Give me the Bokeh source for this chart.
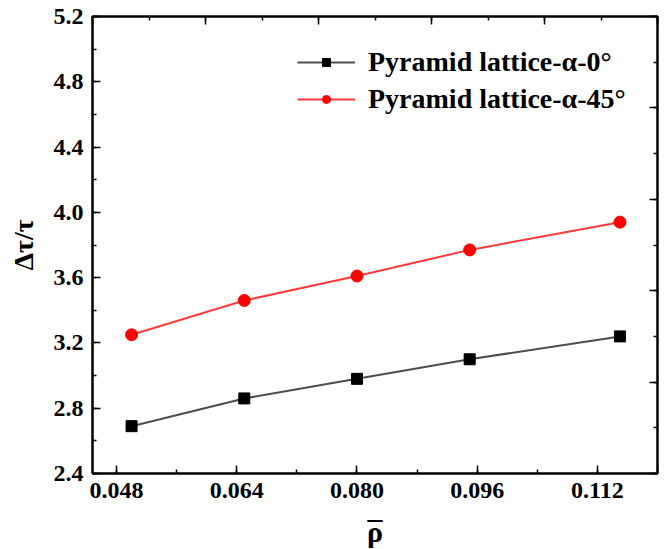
from bokeh.plotting import figure
from bokeh.models import (Range1d, LinearAxis, SingleIntervalTicker, NumeralTickFormatter,
                          CustomJSTickFormatter, Legend, LegendItem)
from bokeh.embed import file_html
from bokeh.resources import INLINE

# ---- data ----
rho = [0.050, 0.065, 0.080, 0.095, 0.115]
alpha0 = [2.69, 2.86, 2.98, 3.10, 3.24]
alpha45 = [3.25, 3.46, 3.61, 3.77, 3.94]
series_names = ["Pyramid lattice-\u03b1-0\u00b0", "Pyramid lattice-\u03b1-45\u00b0"]
x_label = "\u2013\n\u03c1"   # rho with an overline bar
y_label = "\u0394\u03c4/\u03c4"

FONT = "Liberation Serif"

p = figure(width=667, height=549, frame_width=565, frame_height=457,
           min_border_left=92, min_border_right=10, min_border_top=16, min_border_bottom=76,
           x_range=Range1d(0.0448, 0.1200), y_range=Range1d(2.4, 5.2),
           output_backend="svg", toolbar_location=None, x_axis_location=None, y_axis_location=None)
p.xgrid.visible = False
p.ygrid.visible = False
p.outline_line_color = "black"
p.outline_line_width = 2
p.background_fill_color = "white"
p.border_fill_color = "white"

p.extra_x_ranges = {"top": Range1d(0, 10)}
p.extra_y_ranges = {"right": Range1d(0, 10)}

def style(ax):
    ax.axis_line_width = 2
    ax.axis_line_color = "black"
    ax.major_tick_in = 8
    ax.major_tick_out = 0
    ax.minor_tick_in = 4
    ax.minor_tick_out = 0
    ax.major_tick_line_width = 1.5
    ax.minor_tick_line_width = 1.5
    ax.major_tick_line_color = "black"
    ax.minor_tick_line_color = "black"
    ax.major_label_text_font = FONT
    ax.major_label_text_font_style = "bold"
    ax.major_label_text_font_size = "24px"
    ax.major_label_text_color = "black"
    ax.axis_label_text_font = FONT
    ax.axis_label_text_font_style = "bold"
    ax.axis_label_text_color = "black"

xb = LinearAxis(ticker=SingleIntervalTicker(interval=0.016, num_minor_ticks=2),
                formatter=NumeralTickFormatter(format="0.000"), axis_label=x_label)
style(xb)
xb.major_label_standoff = 9
xb.axis_label_text_font_size = "30px"
xb.axis_label_text_line_height = 0.45
xb.axis_label_standoff = 0
p.add_layout(xb, "below")

yl = LinearAxis(ticker=SingleIntervalTicker(interval=0.4, num_minor_ticks=2),
                formatter=NumeralTickFormatter(format="0.0"), axis_label=y_label)
style(yl)
yl.major_label_standoff = 9
yl.axis_label_text_font_size = "28px"
yl.axis_label_standoff = 12
p.add_layout(yl, "left")

blank = CustomJSTickFormatter(code="return ''")
xt = LinearAxis(x_range_name="top", ticker=SingleIntervalTicker(interval=2, num_minor_ticks=2),
                formatter=blank)
style(xt)
xt.major_label_text_font_size = "1px"
p.add_layout(xt, "above")

yr = LinearAxis(y_range_name="right", ticker=SingleIntervalTicker(interval=2, num_minor_ticks=2),
                formatter=blank)
style(yr)
yr.major_label_text_font_size = "1px"
p.add_layout(yr, "right")

l0 = p.line(rho, alpha0, line_color="#4d4d4d", line_width=2)
m0 = p.scatter(rho, alpha0, marker="square", size=11, fill_color="black", line_color="black")
l1 = p.line(rho, alpha45, line_color="#ff3b3b", line_width=2)
m1 = p.scatter(rho, alpha45, marker="circle", size=12, fill_color="#ff0000", line_color="#ff0000")

legend = Legend(items=[LegendItem(label=series_names[0], renderers=[l0, m0]),
                       LegendItem(label=series_names[1], renderers=[l1, m1])],
                location=(205, 358), padding=0, margin=0, spacing=5,
                glyph_width=58, glyph_height=20, label_height=30, label_standoff=13,
                label_text_font=FONT, label_text_font_style="bold", label_text_font_size="28px",
                label_text_color="black", border_line_color=None, background_fill_alpha=0)
p.add_layout(legend, "center")

open("out.html", "w").write(file_html(p, INLINE))
